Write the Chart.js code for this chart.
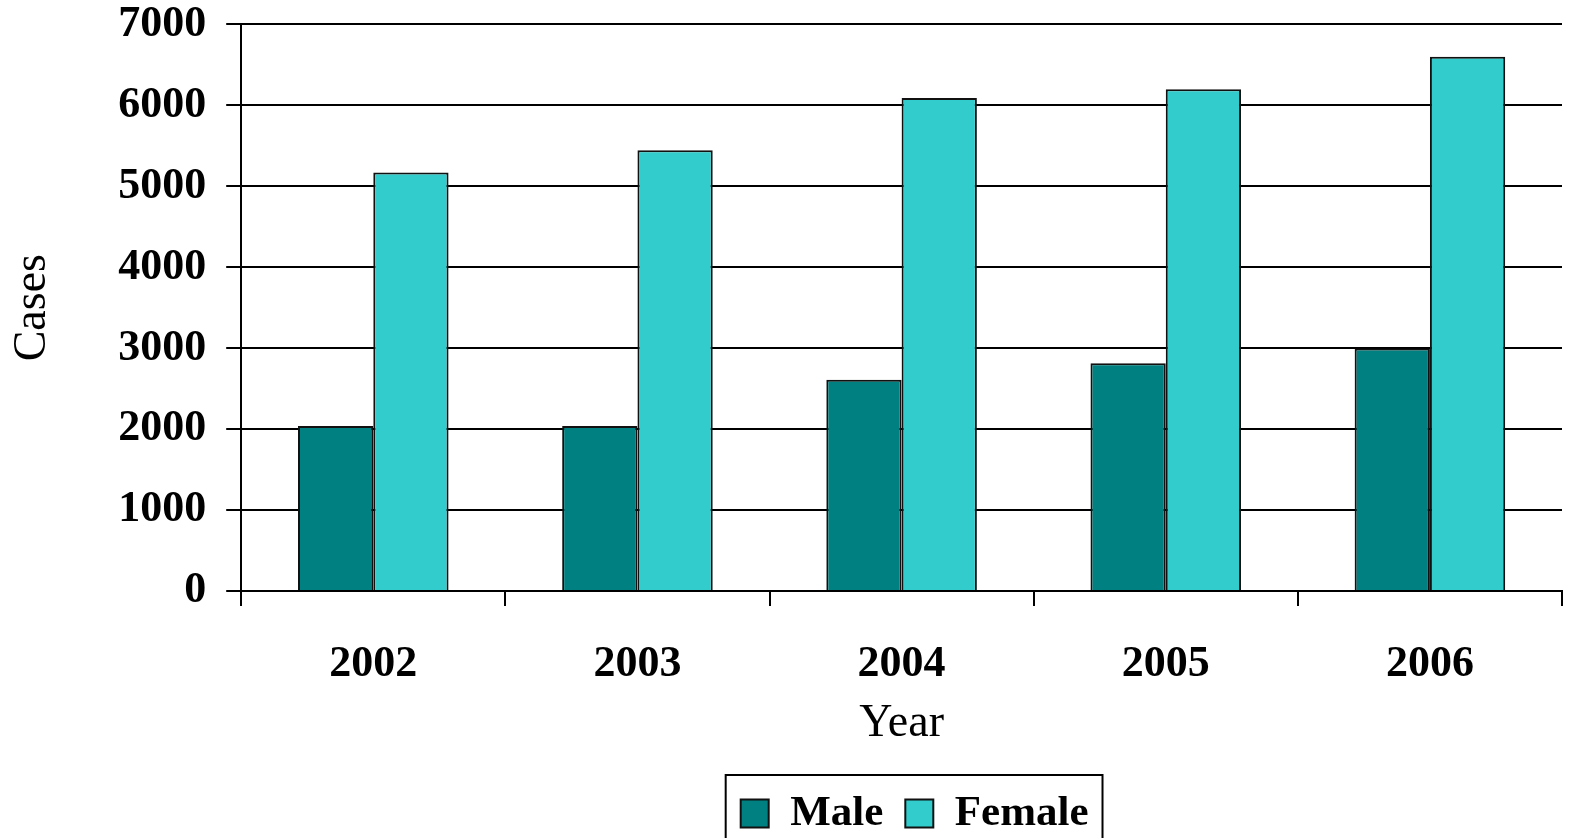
<!DOCTYPE html>
<html>
<head>
<meta charset="utf-8">
<script src="https://cdn.jsdelivr.net/npm/chart.js@4.4.1/dist/chart.umd.min.js"></script>
<style>
  html, body { margin: 0; padding: 0; background: #fff; }
  #wrap { width: 1570px; height: 838px; }
</style>
</head>
<body>
<div id="wrap"><canvas id="casesChart" width="1570" height="838"></canvas></div>
<script>
const years = ['2002', '2003', '2004', '2005', '2006'];
const maleCases = [2040, 2040, 2610, 2815, 2995];
const femaleCases = [5170, 5445, 6090, 6200, 6600];
const yMin = 0;
const yMax = 7000;
const yStep = 1000;

const serif = "'Liberation Serif', 'Times New Roman', serif";
const legendShift = 13;

// nudges the legend right and draws the black frame around it, like the original
const legendFrame = {
  id: 'legendFrame',
  afterLayout(chart) {
    const lg = chart.legend;
    lg.left += legendShift;
    lg.right += legendShift;
    lg.legendHitBoxes.forEach(b => { b.left += legendShift; });
  },
  afterDraw(chart) {
    const boxes = chart.legend.legendHitBoxes;
    if (!boxes || !boxes.length) return;
    const ctx = chart.ctx;
    const left = boxes[0].left - 15;
    const last = boxes[boxes.length - 1];
    const right = last.left + last.width + 14;
    const top = boxes[0].top - 17;
    ctx.save();
    ctx.strokeStyle = '#000';
    ctx.lineWidth = 2;
    ctx.strokeRect(left, top, right - left, chart.height + 10 - top);
    ctx.restore();
  }
};

new Chart(document.getElementById('casesChart'), {
  type: 'bar',
  data: {
    labels: years,
    datasets: [{
      label: 'Male',
      data: maleCases,
      backgroundColor: '#008080',
      borderColor: '#111',
      borderWidth: 2,
      categoryPercentage: 0.57,
      barPercentage: 1
    }, {
      label: 'Female',
      data: femaleCases,
      backgroundColor: '#33CCCC',
      borderColor: '#111',
      borderWidth: 2,
      categoryPercentage: 0.57,
      barPercentage: 1
    }]
  },
  options: {
    responsive: false,
    animation: false,
    layout: { padding: { top: 0, right: 8, left: 0, bottom: -7 } },
    plugins: {
      tooltip: { enabled: false },
      legend: {
        position: 'bottom',
        fullSize: false,
        labels: {
          color: '#000',
          font: { family: serif, size: 43, weight: 'bold' },
          boxWidth: 28,
          boxHeight: 28,
          padding: 22
        }
      }
    },
    scales: {
      x: {
        grid: {
          drawOnChartArea: false,
          drawTicks: true,
          tickLength: 15,
          color: '#000',
          lineWidth: 2
        },
        border: { color: '#000', width: 2 },
        ticks: {
          color: '#000',
          padding: 32,
          font: { family: serif, size: 44, weight: 'bold' }
        },
        title: {
          display: true,
          text: 'Year',
          color: '#000',
          padding: { top: -26, bottom: 18 },
          font: { family: serif, size: 46 }
        }
      },
      y: {
        min: yMin,
        max: yMax,
        grid: {
          color: '#000',
          lineWidth: 2,
          tickLength: 15
        },
        border: { color: '#000', width: 2 },
        ticks: {
          stepSize: yStep,
          color: '#000',
          padding: 20,
          // small line height keeps the top tick label from pushing the plot down
          font: { family: serif, size: 44, weight: 'bold', lineHeight: 0.2 },
          callback: (value) => String(value)
        },
        title: {
          display: true,
          text: 'Cases',
          color: '#000',
          padding: { top: 5, bottom: 38 },
          font: { family: serif, size: 46 }
        }
      }
    }
  },
  plugins: [legendFrame]
});
</script>
</body>
</html>
